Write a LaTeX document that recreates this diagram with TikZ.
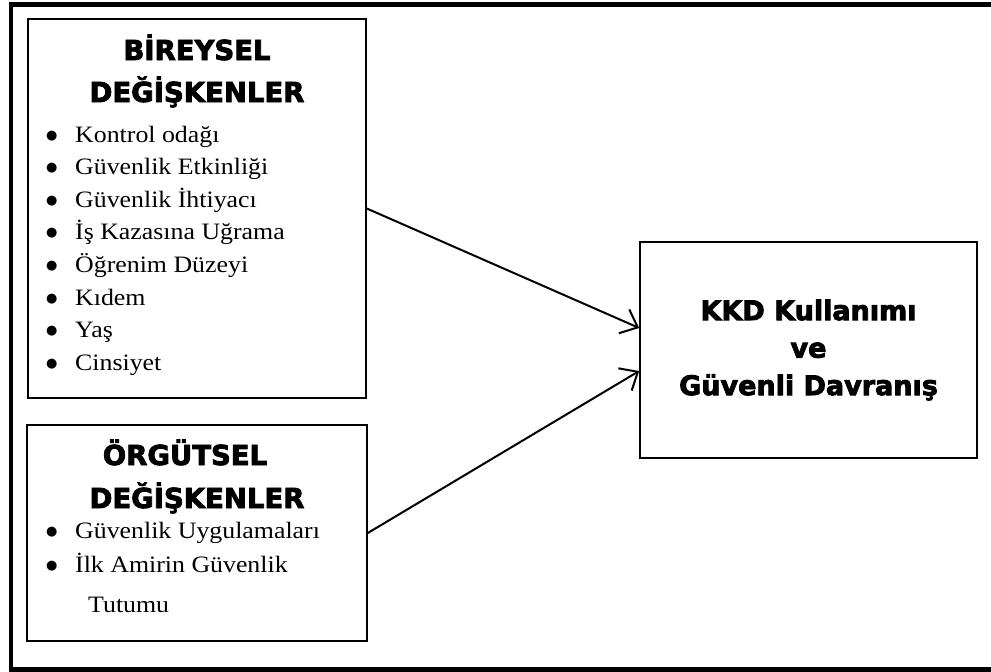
\documentclass[tikz,border=0pt]{standalone}
\usepackage{fontspec}
\setmainfont{Liberation Serif}
\newfontfamily\itemfont{Liberation Serif}[FakeStretch=1.1]
\newfontfamily\headfont{DejaVu Sans Bold}[FakeBold=3]
\newfontfamily\isaretfont{DejaVu Sans}
\usetikzlibrary{arrows.meta,positioning}

\tikzset{
  kutu/.style={draw, line width=1.6pt, inner sep=0pt},
  baslik/.style={font=\headfont\fontsize{27.5}{30}\selectfont, anchor=base, inner sep=0pt},
  madde/.style={font=\itemfont\fontsize{23.5}{26}\selectfont, anchor=base west, inner sep=0pt},
  ok/.style={-{Straight Barb[length=15pt,width=26pt,line width=2pt]}, line width=2pt}
}
\newcommand{\madimi}{\makebox[29pt][l]{\raisebox{3pt}{\isaretfont\fontsize{13}{14}\selectfont ●}}}

\begin{document}
\begin{tikzpicture}[x=1pt,y=-1pt]
\useasboundingbox (0,0) rectangle (991,672);
\clip (0,0) rectangle (991,672);
\draw[line width=4.5pt] (11,4.5) rectangle (1010,669.5);
% kutular
\node[kutu, minimum width=338pt, minimum height=379pt] (bireysel) at (197,208.5) {};
\node[kutu, minimum width=340pt, minimum height=216pt] (orgutsel) at (197,533) {};
\node[kutu, minimum width=337pt, minimum height=216pt, align=center,
      font=\headfont\fontsize{27}{37.5}\selectfont] (kkd) at (808.5,350)
      {KKD Kullanımı\\ve\\Güvenli Davranış};
% bireysel degiskenler
\node[baslik] (b1) at (197,60) {BİREYSEL};
\node[baslik] (b2) at (197,102) {DEĞİŞKENLER};
\foreach \t [count=\i] in {Kontrol odağı, Güvenlik Etkinliği, Güvenlik İhtiyacı,
    İş Kazasına Uğrama, Öğrenim Düzeyi, Kıdem, Yaş, Cinsiyet}
  \node[madde] (m\i) at (46,{142+32.6*(\i-1)}) {\madimi\t};
% orgutsel degiskenler
\node[baslik] (o1) at (185,465) {ÖRGÜTSEL};
\node[baslik] (o2) at (197,508) {DEĞİŞKENLER};
\node[madde] (o3) at (46,538) {\madimi Güvenlik Uygulamaları};
\node[madde] (o4) at (46,572) {\madimi İlk Amirin Güvenlik};
\node[madde] (o5) at (88,612) {Tutumu};
% oklar
\draw[ok] (bireysel.east) -- ([yshift=22pt]kkd.west);
\draw[ok] (orgutsel.east) -- ([yshift=-21pt]kkd.west);
\end{tikzpicture}
\end{document}
